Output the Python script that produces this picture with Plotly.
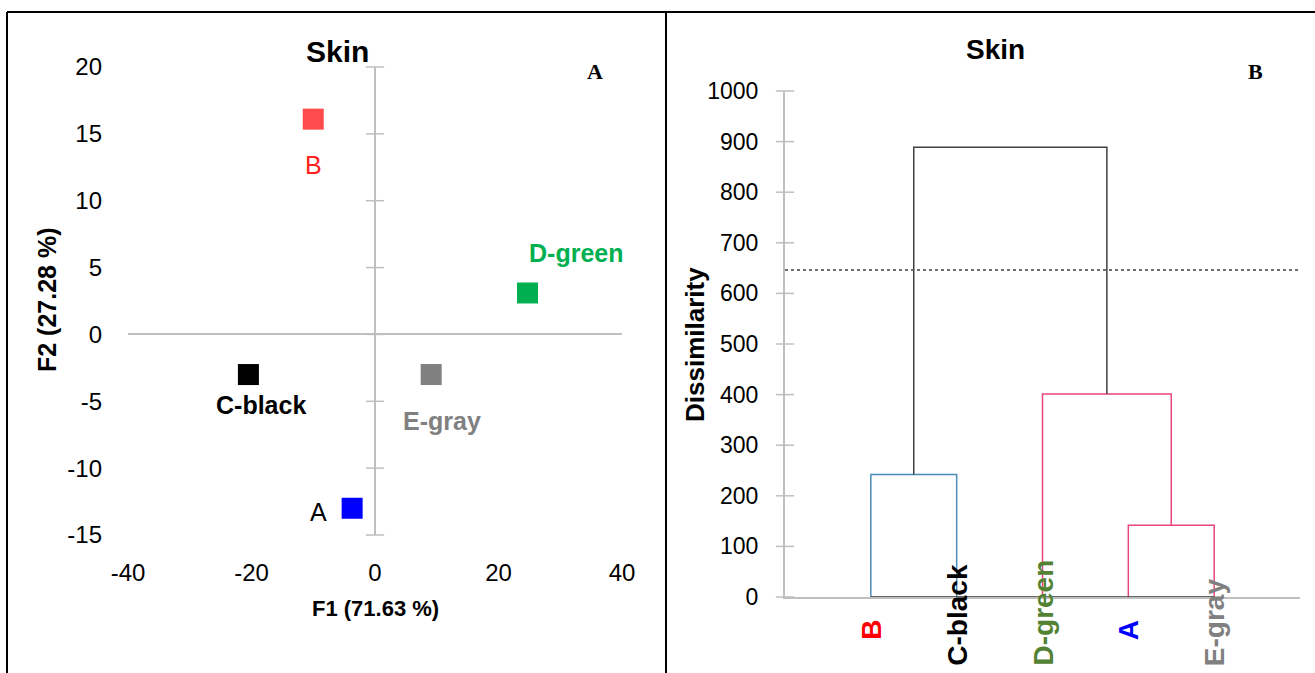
import plotly.graph_objects as go

# ---------------- data ----------------
# PCA (left panel)
pca_labels = ["B", "D-green", "C-black", "E-gray", "A"]
pca_f1 = [-10.0, 24.7, -20.5, 9.1, -3.7]
pca_f2 = [16.1, 3.1, -3.0, -3.0, -13.0]
pca_colors = ["#FF4B4B", "#00B050", "#000000", "#808080", "#0000FF"]
pca_label_colors = ["#FF2020", "#00B050", "#000000", "#808080", "#000000"]
pca_label_bold = [False, True, True, True, False]
f1_ticks = [-40, -20, 0, 20, 40]
f2_ticks = [-15, -10, -5, 0, 5, 10, 15, 20]

# Dendrogram (right panel)
leaves = ["B", "C-black", "D-green", "A", "E-gray"]
leaf_colors = ["#FF0000", "#000000", "#548235", "#0000FF", "#808080"]
# merges: (left member, right member, height, colour)
merges = [
    ("A", "E-gray", 142, "#E8467C"),
    ("B", "C-black", 242, "#4A8DB8"),
    ("D-green", "m0", 401, "#E8467C"),
    ("m1", "m2", 889, "#404040"),
]
cut_level = 646
dis_ticks = [0, 100, 200, 300, 400, 500, 600, 700, 800, 900, 1000]

W, H = 1315, 673
def px(x):
    return x / W
def py(y):
    return 1 - y / H

FONT = "Liberation Sans, Arial, sans-serif"
SERIF = "Liberation Serif, Times New Roman, serif"
GRAY_AX = "#BFBFBF"

fig = go.Figure()

# ---------- left: PCA scatter ----------
fig.add_trace(go.Scatter(
    x=[0] * len(f2_ticks), y=f2_ticks, mode="markers", xaxis="x", yaxis="y",
    marker=dict(symbol="line-ew", size=13, line=dict(color=GRAY_AX, width=1.5)),
    cliponaxis=False, hoverinfo="skip", showlegend=False))
fig.add_trace(go.Scatter(
    x=pca_f1, y=pca_f2, mode="markers", xaxis="x", yaxis="y",
    marker=dict(symbol="square", size=21, color=pca_colors),
    showlegend=False, cliponaxis=False))

label_shift = {"B": (0, -46), "D-green": (48, 40), "C-black": (13, -30),
               "E-gray": (11, -46), "A": (-34, -4)}
for lab, x, y, c, b in zip(pca_labels, pca_f1, pca_f2, pca_label_colors, pca_label_bold):
    dx, dy = label_shift[lab]
    fig.add_annotation(x=x, y=y, xref="x", yref="y", text=f"<b>{lab}</b>" if b else lab,
                       showarrow=False, xshift=dx, yshift=dy,
                       font=dict(family=FONT, size=25, color=c))

# ---------- right: dendrogram ----------
pos = {name: i + 1 for i, name in enumerate(leaves)}
hgt = {name: 0 for name in leaves}
for i, (a, b, h, col) in enumerate(merges):
    xa, xb = pos[a], pos[b]
    fig.add_trace(go.Scatter(
        x=[xa, xa, xb, xb], y=[hgt[a], h, h, hgt[b]], mode="lines",
        xaxis="x2", yaxis="y2", line=dict(color=col, width=1.5),
        hoverinfo="skip", showlegend=False, cliponaxis=False))
    pos[f"m{i}"] = (xa + xb) / 2
    hgt[f"m{i}"] = h

# baseline under leaves
fig.add_trace(go.Scatter(
    x=[1, len(leaves)], y=[0, 0], mode="lines", xaxis="x2", yaxis="y2",
    line=dict(color="#333333", width=1.5), hoverinfo="skip", showlegend=False,
    cliponaxis=False))
# truncation level
fig.add_trace(go.Scatter(
    x=[0, len(leaves) + 1], y=[cut_level, cut_level], mode="lines", xaxis="x2", yaxis="y2",
    line=dict(color="#404040", width=1.5, dash="dot"), hoverinfo="skip", showlegend=False))
# cross ticks on dissimilarity axis
fig.add_trace(go.Scatter(
    x=[0] * len(dis_ticks), y=dis_ticks, mode="markers", xaxis="x2", yaxis="y2",
    marker=dict(symbol="line-ew", size=13, line=dict(color=GRAY_AX, width=1.5)),
    cliponaxis=False, hoverinfo="skip", showlegend=False))

# leaf labels (rotated)
for i, (lab, col) in enumerate(zip(leaves, leaf_colors)):
    if len(lab) > 3:
        yy, anc = py(668), "bottom"
    else:
        yy, anc = py(630), "middle"
    fig.add_annotation(x=i + 1, y=yy, xref="x2", yref="paper", text=f"<b>{lab}</b>",
                       textangle=-90, showarrow=False, yanchor=anc, xanchor="center",
                       font=dict(family=FONT, size=28, color=col))

# ---------- titles / labels ----------
ann = [
    dict(x=px(337), y=py(52), text="<b>Skin</b>", size=30, fam=FONT, ang=0),
    dict(x=px(995), y=py(50), text="<b>Skin</b>", size=28, fam=FONT, ang=0),
    dict(x=px(595), y=py(72), text="<b>A</b>", size=22, fam=SERIF, ang=0),
    dict(x=px(1255), y=py(72), text="<b>B</b>", size=22, fam=SERIF, ang=0),
    dict(x=px(375), y=py(608), text="<b>F1 (71.63 %)</b>", size=22, fam=FONT, ang=0),
    dict(x=px(47), y=py(300), text="<b>F2 (27.28 %)</b>", size=25, fam=FONT, ang=-90),
    dict(x=px(695), y=py(345), text="<b>Dissimilarity</b>", size=26, fam=FONT, ang=-90),
]
for a in ann:
    fig.add_annotation(x=a["x"], y=a["y"], xref="paper", yref="paper", text=a["text"],
                       showarrow=False, textangle=a["ang"], xanchor="center", yanchor="middle",
                       font=dict(family=a["fam"], size=a["size"], color="#000000"))

# ---------- frame ----------
frame = dict(type="line", xref="paper", yref="paper", line=dict(color="#000000", width=2))
fig.add_shape(x0=px(7), x1=1, y0=py(12), y1=py(12), **frame)
fig.add_shape(x0=px(7), x1=px(7), y0=py(12), y1=0, **frame)
fig.add_shape(x0=px(666), x1=px(666), y0=py(12), y1=0, **frame)

tickfont = dict(family=FONT, size=24, color="#000000")
fig.update_layout(
    width=W, height=H, autosize=False,
    margin=dict(l=0, r=0, t=0, b=0, pad=0, autoexpand=False),
    paper_bgcolor="white", plot_bgcolor="white",
    showlegend=False,
    xaxis=dict(domain=[px(128), px(622)], range=[-40, 40], tickvals=f1_ticks,
               ticktext=[str(v) for v in f1_ticks], automargin=False,
               showgrid=False, zeroline=True, zerolinecolor=GRAY_AX, zerolinewidth=2,
               showline=False, ticks="", ticklabelstandoff=21, tickfont=tickfont,
               anchor="y"),
    yaxis=dict(domain=[py(535), py(67)], range=[-15, 20], tickvals=f2_ticks,
               ticktext=[str(v) for v in f2_ticks], automargin=False,
               showgrid=False, zeroline=True, zerolinecolor=GRAY_AX, zerolinewidth=2,
               showline=False, ticks="", ticklabelstandoff=25, tickfont=tickfont,
               anchor="x"),
    xaxis2=dict(domain=[px(785), px(1300)], range=[0, len(leaves) + 1], automargin=False,
                showgrid=False, zeroline=False, showline=True, linecolor=GRAY_AX,
                linewidth=2, showticklabels=False, ticks="", anchor="y2"),
    yaxis2=dict(domain=[py(597), py(91)], range=[0, 1000], tickvals=dis_ticks,
                ticktext=[str(v) for v in dis_ticks], automargin=False,
                showgrid=False, zeroline=False, showline=True, linecolor=GRAY_AX,
                linewidth=2, ticks="", ticklabelstandoff=20,
                tickfont=dict(family=FONT, size=23, color="#000000"), anchor="x2"),
)

fig.write_html("out.html")
